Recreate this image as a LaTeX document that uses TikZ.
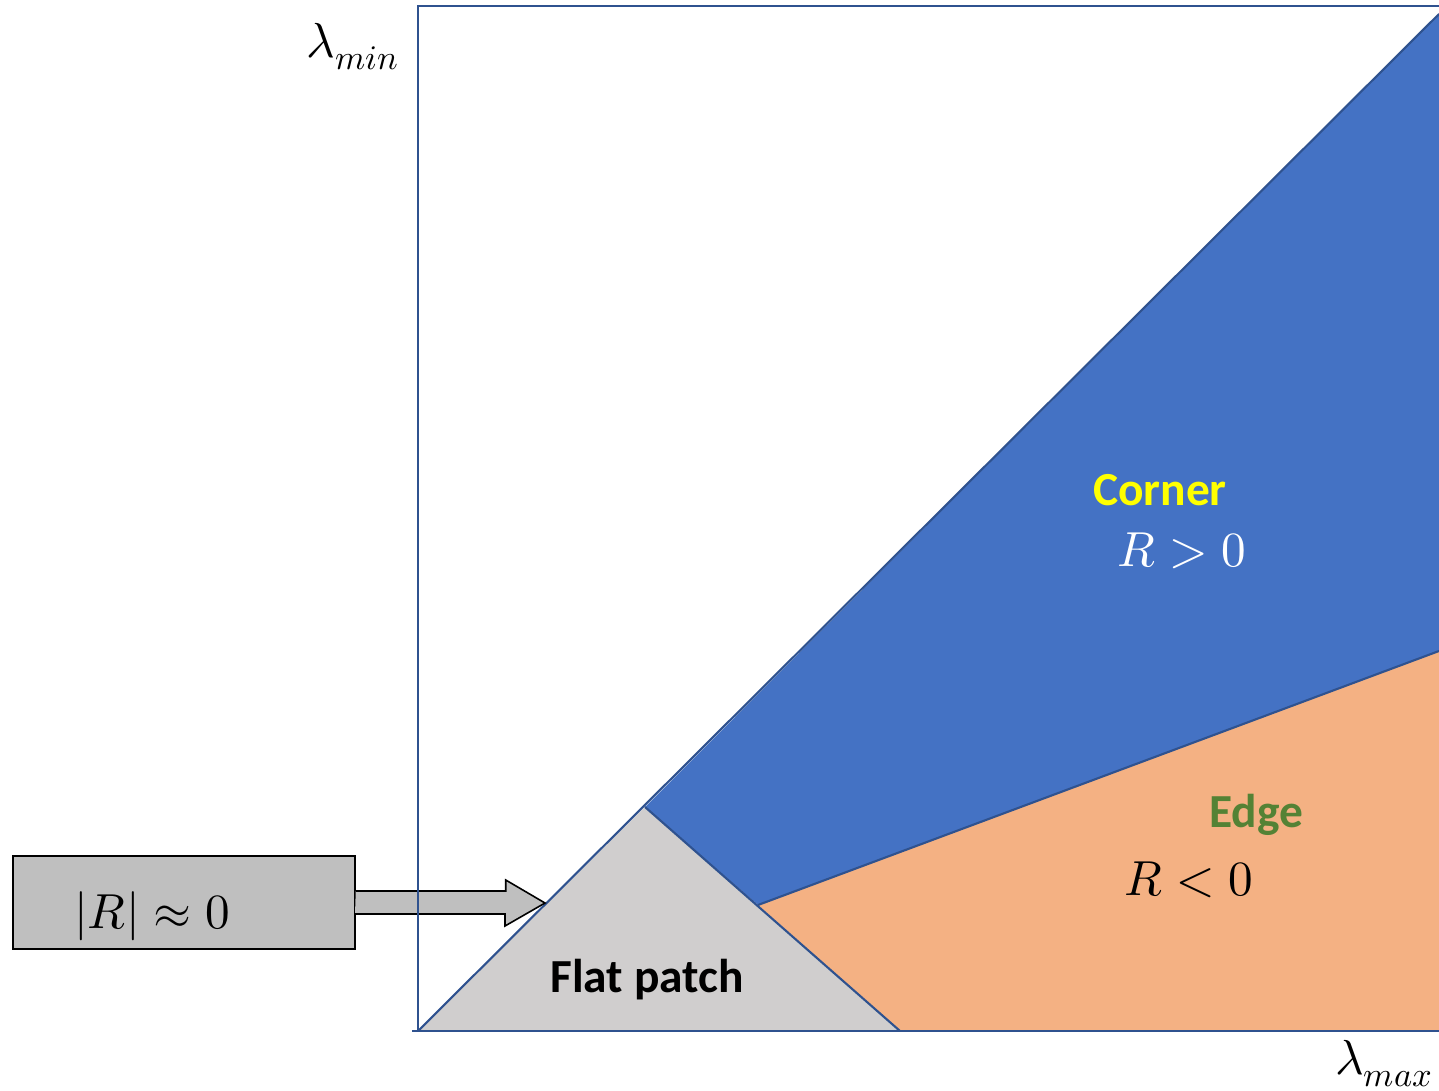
\documentclass[tikz,border=0pt]{standalone}
\usepackage{fontspec}
\usepackage{unicode-math}
\setsansfont{Carlito}
\usetikzlibrary{calc}
\definecolor{RegionBlue}{HTML}{4472C4}
\definecolor{EdgeOrange}{HTML}{F4B183}
\definecolor{FlatGray}{HTML}{D0CECE}
\definecolor{BoxGray}{HTML}{BFBFBF}
\definecolor{LineBlue}{HTML}{2F528F}
\definecolor{CornerYellow}{HTML}{FFFF00}
\definecolor{EdgeGreen}{HTML}{548235}
\tikzset{
  % bordi delle regioni e assi
  region/.style={draw=LineBlue,line width=1.2pt},
  frame/.style={draw=LineBlue,line width=1.6pt},
  % riquadro e freccia a blocco
  box/.style={draw=black,line width=0.9pt,fill=BoxGray,minimum width=6.84cm,minimum height=1.86cm,inner sep=0pt},
  blockarrow/.style={draw=black,line width=0.9pt,fill=BoxGray,line join=miter},
  % testi
  word/.style={font=\sffamily\bfseries\fontsize{27}{31}\selectfont,inner sep=0pt,anchor=base},
  formula/.style={font=\fontsize{28}{34}\selectfont,inner sep=0pt,anchor=base}
}
\begin{document}
\begin{tikzpicture}[x=0.02cm,y=-0.02cm]
  \useasboundingbox (0,0) rectangle (1439,1091);
  % vertici delle regioni
  \coordinate (o) at (418,1031);
  \coordinate (apex) at (645,807);
  \coordinate (diagEnd) at (1439,14);
  \coordinate (split) at (758,905);
  \coordinate (splitEnd) at (1439,651);
  \coordinate (flatEnd) at (900,1031);
  \coordinate (corner) at (1439,1031);
  \coordinate (topEnd) at (1439,6);
  \coordinate (axisStart) at (412,1031);
  \coordinate (tip) at (545,903);
  \fill[RegionBlue] (apex) -- (diagEnd) -- (splitEnd) -- (split) -- cycle;
  \fill[EdgeOrange] (split) -- (splitEnd) -- (corner) -- (flatEnd) -- cycle;
  \fill[FlatGray] (o) -- (apex) -- (flatEnd) -- cycle;
  \draw[region] (o) -- (diagEnd);
  \draw[region] (apex) -- (flatEnd);
  \draw[region] (split) -- (splitEnd);
  % riquadro |R| con freccia
  \node[box] (zerobox) at (184,902.5) {};
  \node[formula] (zerolbl) at (152,928) {$|R| \approx 0$};
  \filldraw[blockarrow] ($(zerobox.east)+(0,-11.5)$) -- ++(150,0) -- ++(0,-11)
    -- (tip) -- ++(-40,23) -- ++(0,-12) -- ++(-150,0);
  % assi
  \draw[frame] (topEnd) -| (o);
  \draw[frame] (axisStart) -- (corner);
  \node[formula,anchor=center] (ymin) at (353,47) {$\lambda_{min}$};
  \node[formula,anchor=center] (xmax) at (1384,1064) {$\lambda_{max}$};
  % etichette
  \node[word,text=CornerYellow] (cornerlbl) at (1160,505) {Corner};
  \node[formula,text=white] (cornerR) at (1182,566) {$R > 0$};
  \node[word,text=EdgeGreen] (edgelbl) at (1256,827) {Edge};
  \node[formula] (edgeR) at (1189,895) {$R < 0$};
  \node[word] (flatlbl) at (647,992) {Flat patch};
\end{tikzpicture}
\end{document}
